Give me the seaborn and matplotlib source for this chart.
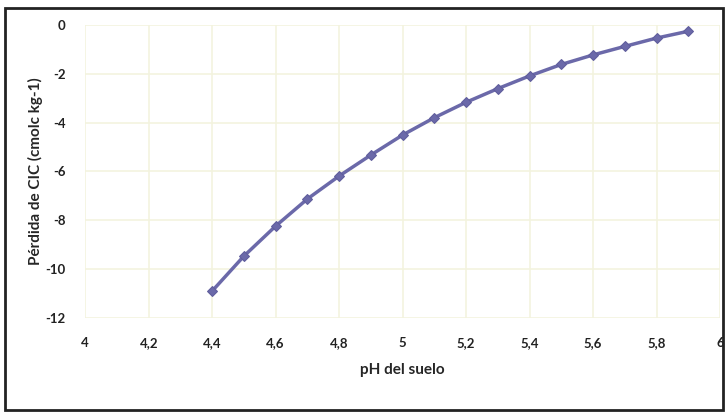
import pandas as pd
import numpy as np
import seaborn as sns
import matplotlib.pyplot as plt
from matplotlib.patches import Rectangle

# values
ph = [4.4, 4.5, 4.6, 4.7, 4.8, 4.9, 5.0, 5.1, 5.2, 5.3, 5.4, 5.5, 5.6, 5.7, 5.8, 5.9]
cic_loss = [-10.9, -9.47, -8.24, -7.13, -6.19, -5.33, -4.51, -3.80, -3.17, -2.61,
            -2.09, -1.62, -1.23, -0.88, -0.54, -0.26]
x_ticks = [4, 4.2, 4.4, 4.6, 4.8, 5, 5.2, 5.4, 5.6, 5.8, 6]
x_labels = ['4', '4,2', '4,4', '4,6', '4,8', '5', '5,2', '5,4', '5,6', '5,8', '6']
y_ticks = [0, -2, -4, -6, -8, -10, -12]

df = pd.DataFrame({'ph': ph, 'cic': cic_loss})

sns.set_style('white')
plt.rcParams['font.family'] = ['Lato', 'DejaVu Sans']
plt.rcParams['axes.unicode_minus'] = False

fig = plt.figure(figsize=(7.28, 4.15), dpi=100)
ax = fig.add_axes([0.117, 0.234, 0.872, 0.706])

sns.lineplot(data=df, x='ph', y='cic', ax=ax, color='#6b69a9', linewidth=2.5,
             marker='D', markersize=5.5, markeredgecolor='#5f5d9c')

ax.set_xlim(4, 6)
ax.set_ylim(-12, 0)
ax.set_xticks(x_ticks)
ax.set_xticklabels(x_labels)
ax.set_yticks(y_ticks)
ax.grid(True, color='#f3f3df', linewidth=1.2)
for s in ax.spines.values():
    s.set_visible(False)
ax.tick_params(length=0, labelsize=9.5)
for lbl in ax.get_xticklabels() + ax.get_yticklabels():
    lbl.set_fontweight('bold')
    lbl.set_color('#222222')
ax.tick_params(axis='x', pad=14)
ax.tick_params(axis='y', pad=14)

ax.set_xlabel('pH del suelo', fontsize=11, fontweight='bold', labelpad=10)
ax.set_ylabel('Pérdida de CIC (cmolc kg-1)', fontsize=11, fontweight='bold', labelpad=2)

# outer frame around the whole chart
fig.patches.append(Rectangle((0.007, 0.012), 0.986, 0.968, transform=fig.transFigure,
                             fill=False, edgecolor='#222222', linewidth=2))

fig.savefig('out.png', dpi=100)
